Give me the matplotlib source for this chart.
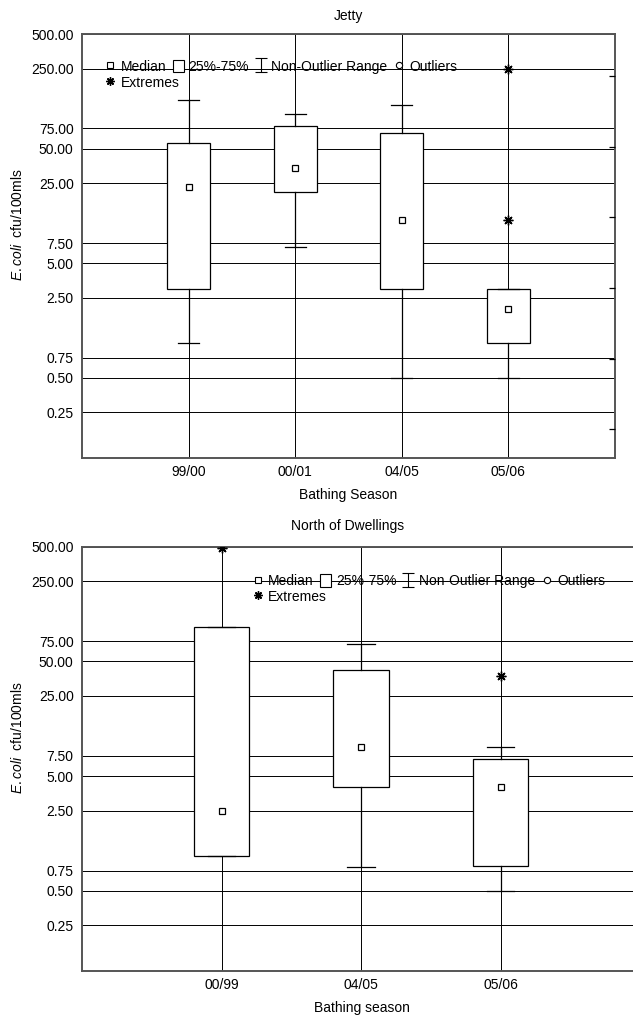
import numpy as np
import matplotlib
matplotlib.use("Agg")
import matplotlib.pyplot as plt
from matplotlib.lines import Line2D
from matplotlib.patches import Patch
from matplotlib.ticker import FixedLocator, FixedFormatter, NullLocator

plt.rcParams['font.family'] = ['Liberation Sans', 'DejaVu Sans']
plt.rcParams['font.size'] = 10
plt.rcParams['mathtext.fontset'] = 'custom'
plt.rcParams['mathtext.rm'] = 'Liberation Sans'
plt.rcParams['mathtext.it'] = 'Liberation Sans:italic'

# ---------------- data ----------------
ytick_values = [500, 250, 75, 50, 25, 7.5, 5, 2.5, 0.75, 0.5, 0.25]
ytick_labels = ['500.00', '250.00', '75.00', '50.00', '25.00', '7.50', '5.00',
                '2.50', '0.75', '0.50', '0.25']

jetty_seasons = ['99/00', '00/01', '04/05', '05/06']
jetty_median = [23, 34, 12, 2.0]
jetty_q1 = [3.0, 21, 3.0, 1.0]
jetty_q3 = [56, 78, 69, 3.0]
jetty_whislo = [1.0, 7.0, 0.5, 0.5]
jetty_whishi = [132, 100, 120, 3.0]
jetty_extremes = [[], [], [], [250, 12]]

north_seasons = ['00/99', '04/05', '05/06']
north_median = [2.5, 8.9, 4.0]
north_q1 = [1.0, 4.0, 0.83]
north_q3 = [100, 41.6, 7.0]
north_whislo = [1.0, 0.8, 0.5]
north_whishi = [100, 70, 8.9]
north_extremes = [[490], [], [37]]

W, H = 633, 1019
fig = plt.figure(figsize=(W / 100, H / 100), dpi=100)

ast_marker = (8, 2, 0)


def draw_panel(ax, seasons, med, q1, q3, wlo, whi, ext, title, xlabel):
    n = len(seasons)
    pos = np.arange(1, n + 1)
    stats = []
    for i in range(n):
        stats.append(dict(med=med[i], q1=q1[i], q3=q3[i], whislo=wlo[i],
                          whishi=whi[i], fliers=ext[i]))
    ax.set_yscale('log')
    ax.bxp(stats, positions=pos, widths=0.4, capwidths=0.2, patch_artist=True,
           boxprops=dict(facecolor='white', edgecolor='black', linewidth=0.9),
           whiskerprops=dict(color='black', linewidth=0.9),
           capprops=dict(color='black', linewidth=0.9),
           medianprops=dict(visible=False),
           flierprops=dict(marker=ast_marker, markersize=7, markeredgewidth=1.0,
                           markeredgecolor='black', markerfacecolor='black',
                           linestyle='none'),
           zorder=3)
    ax.plot(pos, med, linestyle='none', marker='s', markersize=5,
            markerfacecolor='white', markeredgecolor='black',
            markeredgewidth=0.9, zorder=4, clip_on=False)
    ax.set_xlim(0, n + 1)
    ax.set_ylim(0.1, 500)
    ax.xaxis.set_major_locator(FixedLocator(pos))
    ax.xaxis.set_major_formatter(FixedFormatter(seasons))
    ax.yaxis.set_major_locator(FixedLocator(ytick_values))
    ax.yaxis.set_major_formatter(FixedFormatter(ytick_labels))
    ax.yaxis.set_minor_locator(NullLocator())
    ax.grid(True, which='major', color='black', linewidth=0.7, zorder=1)
    ax.set_axisbelow(True)
    ax.tick_params(axis='both', which='both', direction='in', length=0,
                   labelsize=10, colors='black')
    ax.tick_params(axis='x', pad=5)
    ax.tick_params(axis='y', pad=6)
    for s in ax.spines.values():
        s.set_color('#555555')
        s.set_linewidth(1.4)
    ax.set_title(title, fontsize=10, pad=10)
    ax.set_xlabel(xlabel, fontsize=10, labelpad=6.5)
    ax.set_ylabel(r'$\it{E.coli}$  cfu/100mls', fontsize=10, labelpad=4)
    ax.yaxis.label.set_y(0.55)

    h_med = Line2D([], [], linestyle='none', marker='s', markersize=4.5,
                   markerfacecolor='white', markeredgecolor='black',
                   markeredgewidth=0.8)
    h_box = Patch(facecolor='white', edgecolor='black', linewidth=0.8)
    h_err = ax.errorbar([np.nan], [np.nan], yerr=[[0.1], [0.1]], linestyle='none',
                        color='black', elinewidth=0.8, capsize=4, capthick=0.8)
    h_out = Line2D([], [], linestyle='none', marker='o', markersize=4.5,
                   markerfacecolor='white', markeredgecolor='black',
                   markeredgewidth=0.8)
    h_ext = Line2D([], [], linestyle='none', marker=ast_marker, markersize=6,
                   markeredgewidth=1.0, markeredgecolor='black')
    return [h_med, h_box, h_err, h_out], h_ext


def add_legends(ax, handles, h_ext, x0, y0):
    kw = dict(fontsize=10, frameon=False, handlelength=0.8, handleheight=1.0,
              handletextpad=0.35, columnspacing=0.45, borderpad=0,
              borderaxespad=0, loc='upper left')
    leg1 = ax.legend(handles, ['Median', '25%-75%', 'Non-Outlier Range', 'Outliers'],
                     ncol=4, bbox_to_anchor=(x0, y0), **kw)
    ax.add_artist(leg1)
    ax.legend([h_ext], ['Extremes'], bbox_to_anchor=(x0, y0 - 0.037), **kw)


# top panel: Jetty
ax1 = fig.add_axes([82 / W, 1 - 458 / H, (615 - 82) / W, (458 - 34) / H])
hs, he = draw_panel(ax1, jetty_seasons, jetty_median, jetty_q1, jetty_q3,
                    jetty_whislo, jetty_whishi, jetty_extremes, 'Jetty',
                    'Bathing Season')
add_legends(ax1, hs, he, 0.043, 0.939)
# right-hand tick marks of the top panel
axr = ax1.twinx()
axr.set_ylim(0, 1)
axr.yaxis.set_major_locator(FixedLocator([0.068 + k / 6 for k in range(6)]))
axr.tick_params(axis='y', direction='in', length=4, width=0.9, labelright=False,
                colors='black')
for s in axr.spines.values():
    s.set_visible(False)

# bottom panel: North of Dwellings
ax2 = fig.add_axes([82 / W, 1 - 971 / H, (640 - 82) / W, (971 - 546.5) / H])
hs, he = draw_panel(ax2, north_seasons, north_median, north_q1, north_q3,
                    north_whislo, north_whishi, north_extremes,
                    'North of Dwellings', 'Bathing season')
add_legends(ax2, hs, he, 0.305, 0.935)
ax2.set_title('North of Dwellings', fontsize=10, pad=12, x=(348 - 82) / 558)
ax2.xaxis.label.set_x((362 - 82) / 558)

fig.savefig('out.png', dpi=100)
